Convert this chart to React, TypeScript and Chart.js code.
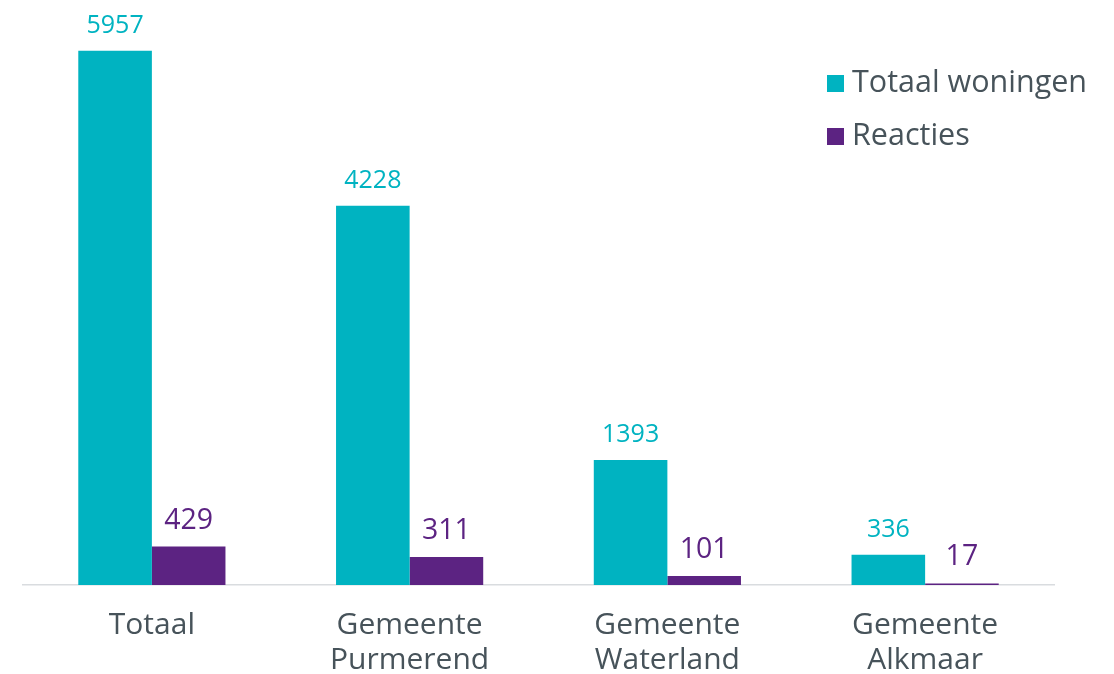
import React, { useEffect, useRef } from "react";
import { Chart, registerables } from "chart.js";

Chart.register(...registerables);

const categories: string[][] = [
  ["Totaal"],
  ["Gemeente", "Purmerend"],
  ["Gemeente", "Waterland"],
  ["Gemeente", "Alkmaar"],
];
const seriesNames = ["Totaal woningen", "Reacties"];
const totaalWoningen = [5957, 4228, 1393, 336];
const reacties = [429, 311, 101, 17];

const TEAL = "#00b3c1";
const PURPLE = "#5c2382";
const TEXT = "#47535a";
const FONT = "'Open Sans', sans-serif";

const labelPlugin = {
  id: "customLabels",
  afterDatasetsDraw(chart: any) {
    const ctx = chart.ctx;
    ctx.save();
    chart.data.datasets.forEach((ds: any, di: number) => {
      const meta = chart.getDatasetMeta(di);
      const size = di === 0 ? 25 : 28.5;
      ctx.font = `${size}px ${FONT}`;
      ctx.fillStyle = ds.backgroundColor;
      ctx.textAlign = "center";
      ctx.textBaseline = "alphabetic";
      meta.data.forEach((bar: any, i: number) => {
        ctx.fillText(String(ds.data[i]), bar.x, bar.y - 18);
      });
    });
    // legend
    const items = chart.data.datasets;
    items.forEach((ds: any, i: number) => {
      const y = 75 + i * 53;
      ctx.fillStyle = ds.backgroundColor;
      ctx.fillRect(827, y, 17, 17);
      ctx.fillStyle = TEXT;
      ctx.font = `30.5px ${FONT}`;
      ctx.textAlign = "left";
      ctx.textBaseline = "middle";
      ctx.fillText(ds.label, 852, y + 8);
    });
    ctx.restore();
  },
};

export default function App() {
  const ref = useRef<HTMLCanvasElement>(null);
  useEffect(() => {
    if (!ref.current) return;
    const chart = new Chart(ref.current, {
      type: "bar",
      data: {
        labels: categories,
        datasets: [
          { label: seriesNames[0], data: totaalWoningen, backgroundColor: TEAL },
          { label: seriesNames[1], data: reacties, backgroundColor: PURPLE },
        ],
      },
      options: {
        animation: false,
        responsive: false,
        maintainAspectRatio: false,
        layout: { padding: { left: 23, right: 60, top: 2, bottom: 0 } },
        plugins: { legend: { display: false }, tooltip: { enabled: false } },
        datasets: { bar: { categoryPercentage: 0.571, barPercentage: 1 } },
        scales: {
          x: {
            grid: { display: false, drawTicks: false },
            border: { display: true, color: "#d9dcdf", width: 1.5 },
            ticks: {
              color: TEXT,
              font: { family: FONT, size: 30, lineHeight: 35 / 30 },
              padding: 23,
              maxRotation: 0,
              autoSkip: false,
            },
            afterFit(scale: any) {
              scale.height = 89;
            },
          },
          y: { display: false, min: 0, max: 6500 },
        },
      },
      plugins: [labelPlugin],
    } as any);
    return () => chart.destroy();
  }, []);
  return (
    <div style={{ position: "fixed", left: 0, top: 0, width: 1114, height: 674, background: "#fff" }}>
      <canvas ref={ref} width={1114} height={674} style={{ width: 1114, height: 674 }} />
    </div>
  );
}
